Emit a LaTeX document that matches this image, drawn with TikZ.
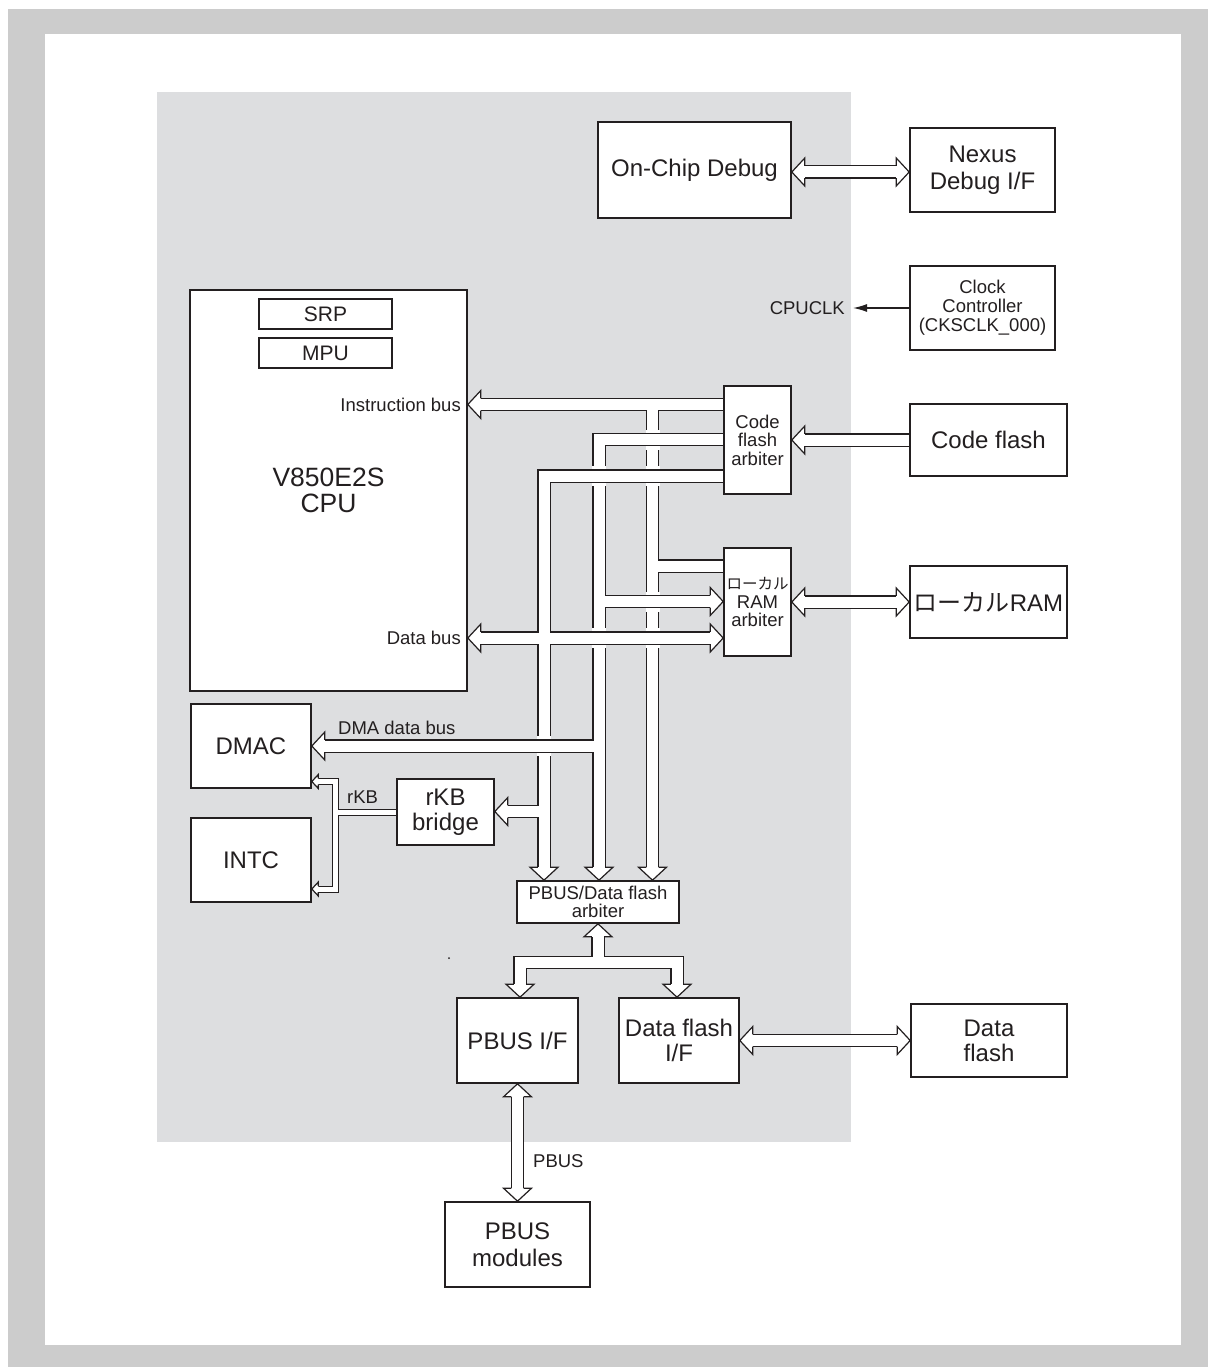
\documentclass[tikz,border=0pt]{standalone}
\usepackage{fontspec}
\setmainfont{Liberation Sans}
\newfontfamily\jpfont{Noto Sans CJK JP}
\usetikzlibrary{calc,arrows.meta}
\definecolor{outergray}{RGB}{204,204,204}
\definecolor{chipgray}{RGB}{221,222,224}
\definecolor{ink}{RGB}{35,31,32}
\pgfdeclarelayer{wires}
\pgfsetlayers{wires,main}
\tikzset{
  blk/.style={draw=ink,line width=1.6pt,fill=white,align=center,inner sep=0pt,
    text=ink,font=\fontsize{24}{26}\selectfont},
  smallblk/.style={blk,font=\fontsize{18.5}{18.5}\selectfont},
  lbl/.style={text=ink,inner sep=0pt,font=\fontsize{18.5}{18.5}\selectfont},
  bus/.style={draw=ink,line width=1.2pt,double=white,double distance=11pt},
  rkbbus/.style={draw=ink,line width=1pt,double=white,double distance=5pt},
  bushead/.style={fill=white,draw=ink,line width=1.2pt,line join=miter},
  clkline/.style={draw=ink,line width=1.3pt,-{Latex[length=14pt,width=8pt]}},
}
% hollow bus arrow head: [scale]{tip}{direction}
\newcommand{\bustip}[3][1]{%
  \begin{scope}[shift={(#2)},rotate=#3,scale=#1]
    \filldraw[bushead] (-13,6.1) -- (-13,14) -- (0,0) -- (-13,-14) -- (-13,-6.1);
  \end{scope}}

\begin{document}
\begin{tikzpicture}[x=1pt,y=-1pt]
  \useasboundingbox (0,0) rectangle (1208,1367);
  \def\headlen{13}
  \def\headlenk{6.5}
  % bus rows and columns
  \coordinate (rowDbg) at (0,172);
  \coordinate (rowI)   at (0,404.5);
  \coordinate (rowM)   at (0,439.5);
  \coordinate (rowD)   at (0,476);
  \coordinate (rowIR)  at (0,566);
  \coordinate (rowMR)  at (0,601.5);
  \coordinate (rowDB)  at (0,638);
  \coordinate (rowDMA) at (0,746);
  \coordinate (rowK)   at (0,811.5);
  \coordinate (rowKD)  at (0,781.5);
  \coordinate (rowKI)  at (0,889);
  \coordinate (rowP)   at (0,962.5);
  \coordinate (colD)   at (544,0);
  \coordinate (colM)   at (599,0);
  \coordinate (colI)   at (652.5,0);
  \coordinate (colKV)  at (335,0);
  \coordinate (colPL)  at (520,0);
  \coordinate (colPR)  at (677,0);

  \node[blk,minimum width=193,minimum height=96] (ocd) at (694.5,170) {On-Chip Debug};
  \node[blk,minimum width=145,minimum height=84,font=\fontsize{24}{27}\selectfont]
    (nexus) at (982.5,170) {Nexus\\Debug I/F};
  \node[blk,minimum width=145,minimum height=84,font=\fontsize{18.5}{19}\selectfont]
    (clk) at (982.5,308) {Clock\\Controller\\(CKSCLK\_000)};
  \node[blk,minimum width=277,minimum height=401,font=\fontsize{26.5}{26}\selectfont]
    (cpu) at (328.5,490.5) {V850E2S\\CPU};
  \node[blk,minimum width=133,minimum height=30,line width=1.3pt,
    font=\fontsize{21}{21}\selectfont] (srp) at (325.5,314) {SRP};
  \node[blk,minimum width=133,minimum height=30,line width=1.3pt,
    font=\fontsize{21}{21}\selectfont] (mpu) at (325.5,353) {MPU};
  \node[smallblk,minimum width=67,minimum height=108] (cfarb) at (757.5,440) {Code\\flash\\arbiter};
  \node[blk,minimum width=157,minimum height=72] (cflash) at (988.5,440) {Code flash};
  \node[smallblk,minimum width=67,minimum height=108] (ramarb) at (757.5,602)
    {{\jpfont\fontsize{15.5}{18.5}\selectfont ローカル}\\RAM\\arbiter};
  \node[blk,minimum width=157,minimum height=72] (lram) at (988.5,602) {{\jpfont ローカル}RAM};
  \node[blk,minimum width=120,minimum height=84] (dmac) at (251,746) {DMAC};
  \node[blk,minimum width=120,minimum height=84] (intc) at (251,860) {INTC};
  \node[blk,minimum width=97,minimum height=66,font=\fontsize{24}{25}\selectfont]
    (rkb) at (445.5,812) {rKB\\bridge};
  \node[smallblk,minimum width=162,minimum height=42,font=\fontsize{18.5}{18}\selectfont]
    (pbarb) at (598,902) {PBUS/Data flash\\arbiter};
  \node[blk,minimum width=121,minimum height=85] (pbif) at (517.5,1040.5) {PBUS I/F};
  \node[blk,minimum width=120,minimum height=85,font=\fontsize{24}{25}\selectfont]
    (dfif) at (679,1040.5) {Data flash\\I/F};
  \node[blk,minimum width=156,minimum height=73,font=\fontsize{24}{25}\selectfont]
    (dflash) at (989,1040.5) {Data\\flash};
  \node[blk,minimum width=145,minimum height=85,font=\fontsize{24}{27}\selectfont]
    (pbmod) at (517.5,1244.5) {PBUS\\modules};

  \node[lbl,anchor=east] (ibuslbl) at (461,404.5) {Instruction bus};
  \node[lbl,anchor=east] (dbuslbl) at (461,638) {Data bus};
  \node[lbl,anchor=west] (dmalbl) at (338,728) {DMA data bus};
  \node[lbl,anchor=west] (rkblbl) at (347,797) {rKB};
  \node[lbl,anchor=west] (pbuslbl) at (533,1161) {PBUS};
  \node[lbl,anchor=east] (cpuclk) at (845,308) {CPUCLK};

  \begin{pgfonlayer}{wires}
    \fill[outergray] (8,9) rectangle (1208,1367);
    \fill[white] (45,34) rectangle (1181,1345);
    \fill[chipgray] (157,92) rectangle (851,1142);
    \fill[ink] (449,958) circle (1);
    % instruction bus
    \draw[bus] (cfarb.west |- rowI) -- ($(cpu.east |- rowI)+(\headlen,0)$)
      (colI |- rowI) -- ($(colI |- pbarb.north)+(0,-\headlen)$)
      (colI |- rowIR) -- (ramarb.west |- rowIR);
    % DMA data bus
    \draw[bus] (cfarb.west |- rowM) -| ($(colM |- pbarb.north)+(0,-\headlen)$)
      (colM |- rowMR) -- ($(ramarb.west |- rowMR)+(-\headlen,0)$)
      (colM |- rowDMA) -- ($(dmac.east |- rowDMA)+(\headlen,0)$);
    % data bus
    \draw[bus] (cfarb.west |- rowD) -| ($(colD |- pbarb.north)+(0,-\headlen)$)
      ($(cpu.east |- rowDB)+(\headlen,0)$) -- ($(ramarb.west |- rowDB)+(-\headlen,0)$)
      (colD |- rowK) -- ($(rkb.east |- rowK)+(\headlen,0)$);
    % crossings, horizontal bus on top
    \foreach \c/\r in {colI/rowM,colI/rowD,colM/rowD,colI/rowMR,colM/rowDB,colI/rowDB,colD/rowDMA}{
      \fill[white] ($(\c |- \r)+(-7,-10)$) rectangle ($(\c |- \r)+(7,10)$);
      \draw[bus] ($(\c |- \r)+(-9,0)$) -- ($(\c |- \r)+(9,0)$);
    }
    \draw[bus] ($(ocd.east |- rowDbg)+(\headlen,0)$) -- ($(nexus.west |- rowDbg)+(-\headlen,0)$);
    \draw[bus] (cflash.west) -- ($(cfarb.east)+(\headlen,0)$);
    \draw[bus] ($(lram.west)+(-\headlen,0)$) -- ($(ramarb.east)+(\headlen,0)$);
    \draw[bus] ($(dfif.east)+(\headlen,0)$) -- ($(dflash.west)+(-\headlen,0)$);
    \draw[bus] ($(pbarb.south)+(0,\headlen)$) -- (pbarb.south |- rowP)
      ($(colPL |- pbif.north)+(0,-\headlen)$) |- (colPR |- rowP)
      -- ($(colPR |- dfif.north)+(0,-\headlen)$);
    \draw[bus] ($(pbif.south)+(0,\headlen)$) -- ($(pbmod.north)+(0,-\headlen)$);
    \draw[rkbbus] (rkb.west) -- (colKV |- rkb.west)
      ($(dmac.east |- rowKD)+(\headlenk,0)$) -| (colKV |- rowKI)
      -- ($(intc.east |- rowKI)+(\headlenk,0)$);
    \draw[clkline] (clk.west) -- ([xshift=8pt]cpuclk.east);
    % arrow heads
    \foreach \p/\a in {cpu.east |- rowI/180, colI |- pbarb.north/270,
        ramarb.west |- rowMR/0, dmac.east |- rowDMA/180, colM |- pbarb.north/270,
        cpu.east |- rowDB/180, ramarb.west |- rowDB/0, rkb.east |- rowK/180,
        colD |- pbarb.north/270, ocd.east |- rowDbg/180, nexus.west |- rowDbg/0,
        cfarb.east/180, lram.west/0, ramarb.east/180, dfif.east/180, dflash.west/0,
        pbarb.south/90, colPL |- pbif.north/270, colPR |- dfif.north/270,
        pbif.south/90, pbmod.north/270}{
      \edef\tiphere{\noexpand\bustip{\p}{\a}}\tiphere
    }
    \foreach \p in {dmac.east |- rowKD, intc.east |- rowKI}{
      \edef\tiphere{\noexpand\bustip[0.5]{\p}{180}}\tiphere
    }
  \end{pgfonlayer}
\end{tikzpicture}
\end{document}
